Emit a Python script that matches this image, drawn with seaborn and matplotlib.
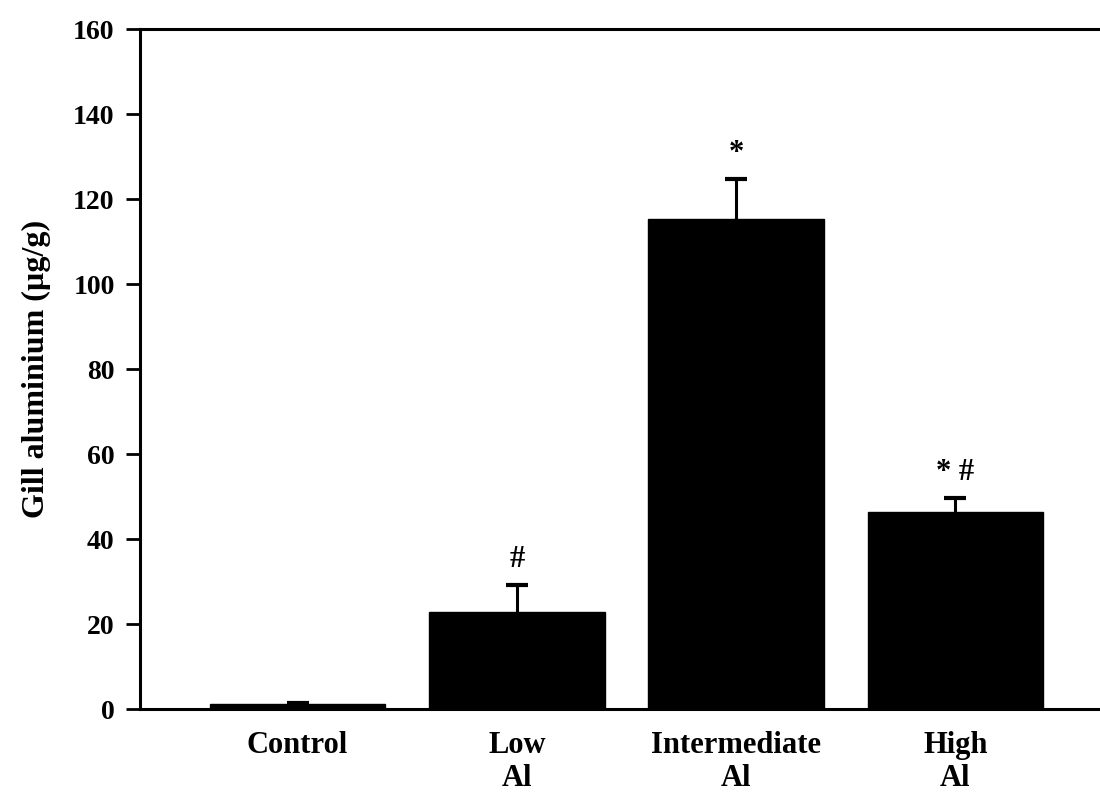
import matplotlib
matplotlib.use("Agg")
import matplotlib.pyplot as plt
import seaborn as sns
import numpy as np

categories = ["Control", "Low\nAl", "Intermediate\nAl", "High\nAl"]
means = [1.2, 22.8, 115.3, 46.4]
sem_up = [0.3, 6.3, 9.4, 3.3]
marks = ["", "#", "*", "* #"]
yticks = [0, 20, 40, 60, 80, 100, 120, 140, 160]

sns.set_theme(style="ticks")
plt.rcParams['font.family'] = ['Liberation Serif', 'DejaVu Serif']
plt.rcParams['font.weight'] = 'bold'
plt.rcParams['text.color'] = 'black'
plt.rcParams['axes.labelcolor'] = 'black'
plt.rcParams['xtick.color'] = 'black'
plt.rcParams['ytick.color'] = 'black'

fig = plt.figure(figsize=(11, 7.97), dpi=100)
ax = fig.add_axes([0.127, 0.1104, 0.873, 0.8532])

sns.barplot(x=categories, y=means, color="black", width=0.8, ax=ax,
            saturation=1, edgecolor="black")
xpos = np.arange(len(categories))
tops = np.array(means) + np.array(sem_up)
ax.vlines(xpos, means, tops, color="black", linewidth=2.2)
ax.hlines(tops, xpos - 0.05, xpos + 0.05, color="black", linewidth=3)

for xi, m, e, t in zip(xpos, means, sem_up, marks):
    if t:
        ax.text(xi, m + e + 6, t, ha="center", va="center",
                fontsize=22, fontweight="bold", color="black")

ax.set_xlim(-0.72, 3.66)
ax.set_ylim(0, 160)
ax.set_yticks(yticks)
ax.set_yticklabels([str(v) for v in yticks], fontsize=20, fontweight="bold")
ax.tick_params(axis="y", direction="out", length=10, width=2, pad=8, colors="black")
ax.tick_params(axis="x", length=0, pad=16, labelsize=22, colors="black")
for lab in ax.get_xticklabels():
    lab.set_fontweight("bold")
    lab.set_linespacing(1.15)
ax.set_ylabel("Gill aluminium (µg/g)", fontsize=23, fontweight="bold",
              labelpad=16, color="black")
ax.set_xlabel("")
for s in ["left", "bottom", "top"]:
    ax.spines[s].set_linewidth(2.2)
    ax.spines[s].set_color("black")
ax.spines["right"].set_visible(False)

fig.savefig("out.png", dpi=100)
